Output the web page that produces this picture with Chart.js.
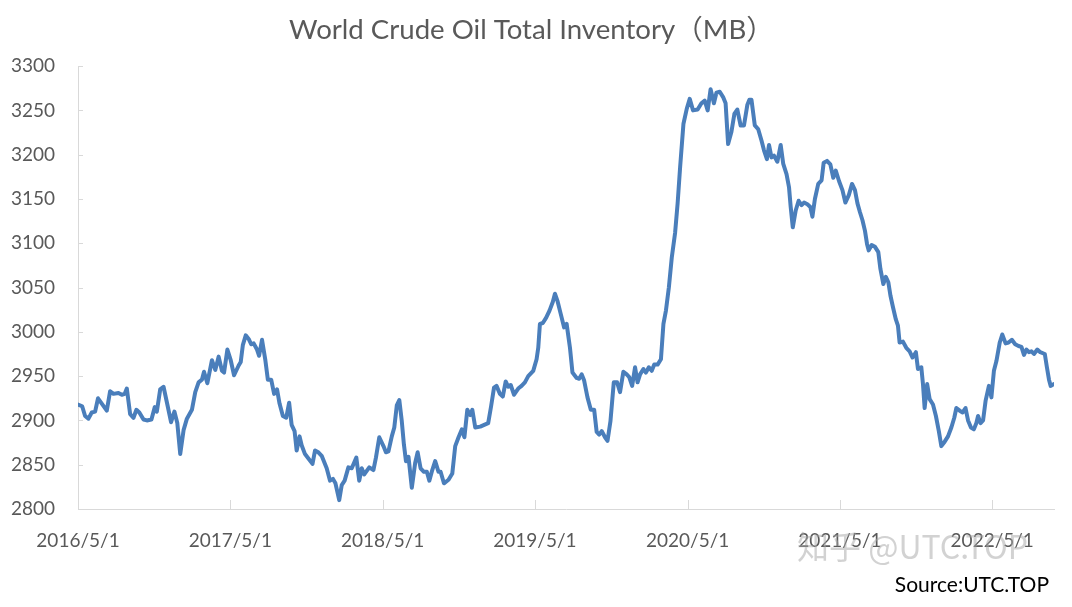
<!DOCTYPE html>
<html><head><meta charset="utf-8">
<script src="https://cdn.jsdelivr.net/npm/chart.js@4/dist/chart.umd.min.js"></script>
<style>
html,body{margin:0;padding:0;background:#fff;width:1072px;height:607px;overflow:hidden}
#wrap{position:relative;width:1072px;height:607px}
canvas{position:absolute;left:0;top:0}
#wm{position:absolute;left:797px;top:522px;font:32px "Noto Sans CJK SC";color:rgba(165,165,165,0.5);white-space:nowrap}
#src{position:absolute;right:23px;top:571px;font:21px Lato;color:#000;white-space:nowrap}
</style></head><body>
<div id="wrap"><canvas id="c" width="1072" height="607"></canvas>
<div id="wm">知乎 @UTC.TOP</div><div id="src">Source:UTC.TOP</div></div>
<script>
const startDate = '2016/5/1';
const dayOffsets = [0,10,17,25,33,41,48,57,69,77,85,97,105,112,117,125,133,140,147,157,165,176,184,189,197,205,215,223,231,238,245,253,261,273,281,289,297,302,310,321,329,337,345,350,358,366,374,385,390,395,402,409,415,421,429,434,441,449,455,463,470,477,483,491,499,506,512,519,524,531,536,544,554,562,568,576,584,596,604,611,617,626,632,639,648,656,667,674,680,686,698,708,714,722,732,738,744,752,758,764,770,776,781,786,792,800,808,814,821,829,836,842,849,856,864,869,877,888,897,904,912,920,926,933,940,945,952,964,983,990,997,1003,1011,1018,1025,1031,1037,1045,1055,1063,1071,1079,1091,1099,1103,1107,1114,1122,1130,1138,1143,1149,1157,1165,1171,1179,1185,1195,1201,1207,1213,1221,1229,1237,1243,1249,1255,1263,1269,1276,1284,1292,1299,1307,1315,1321,1328,1335,1341,1347,1355,1361,1368,1375,1381,1389,1397,1403,1409,1416,1423,1431,1437,1443,1451,1459,1466,1474,1485,1494,1502,1509,1516,1524,1530,1538,1546,1552,1558,1566,1573,1580,1588,1596,1604,1609,1614,1622,1630,1638,1644,1651,1656,1662,1668,1676,1684,1690,1698,1704,1708,1713,1720,1727,1734,1740,1748,1755,1760,1766,1774,1782,1787,1795,1803,1810,1816,1824,1832,1839,1847,1855,1862,1868,1874,1880,1886,1891,1895,1902,1910,1918,1923,1930,1936,1942,1947,1953,1960,1965,1969,1977,1985,1993,2000,2008,2013,2021,2025,2029,2035,2041,2049,2056,2063,2069,2077,2085,2093,2100,2105,2113,2120,2127,2133,2140,2147,2153,2157,2163,2169,2175,2183,2189,2195,2201,2209,2215,2223,2230,2238,2246,2254,2261,2267,2273,2279,2285,2291,2299,2306,2317,2322,2327,2331,2339];
const inventory = [2918,2916,2905,2902,2909,2910,2925,2919,2911,2933,2930,2931,2929,2930,2936,2907,2903,2912,2909,2901,2900,2901,2915,2910,2935,2938,2916,2898,2910,2897,2862,2889,2902,2912,2932,2943,2946,2955,2942,2968,2957,2972,2956,2954,2980,2968,2951,2962,2966,2985,2996,2992,2986,2987,2980,2973,2991,2968,2946,2946,2930,2935,2919,2905,2903,2920,2895,2888,2866,2882,2872,2862,2856,2851,2866,2864,2860,2846,2832,2834,2829,2810,2827,2832,2847,2846,2858,2832,2846,2839,2847,2844,2858,2881,2871,2864,2865,2882,2892,2917,2923,2899,2873,2854,2859,2824,2852,2864,2846,2842,2842,2832,2844,2854,2842,2842,2829,2833,2840,2871,2881,2890,2881,2912,2906,2912,2892,2893,2897,2916,2937,2939,2930,2927,2944,2938,2940,2929,2936,2939,2943,2950,2956,2969,2982,3009,3010,3016,3024,3034,3043,3035,3020,3005,3009,2982,2954,2948,2947,2952,2945,2926,2912,2912,2887,2884,2888,2881,2877,2899,2943,2943,2932,2955,2952,2949,2939,2960,2943,2952,2958,2954,2960,2956,2963,2963,2969,3009,3024,3050,3084,3112,3145,3186,3235,3252,3263,3250,3251,3258,3261,3250,3274,3258,3270,3271,3265,3258,3212,3226,3246,3251,3233,3233,3256,3262,3262,3233,3229,3216,3205,3195,3211,3197,3199,3192,3211,3190,3178,3163,3141,3118,3137,3148,3143,3146,3144,3141,3130,3150,3167,3171,3191,3193,3189,3174,3182,3170,3160,3146,3154,3167,3160,3145,3135,3126,3114,3099,3092,3098,3096,3090,3071,3054,3062,3056,3041,3028,3014,3007,2988,2989,2982,2978,2971,2977,2958,2960,2941,2914,2941,2924,2918,2905,2888,2871,2876,2882,2892,2903,2914,2911,2909,2914,2900,2892,2890,2897,2905,2897,2900,2922,2939,2926,2956,2967,2988,2997,2987,2988,2991,2986,2984,2983,2974,2980,2977,2978,2975,2980,2977,2975,2960,2946,2939,2941];
const xTickDays = [0,365,730,1095,1461,1826,2191];
const xTickLabels = ['2016/5/1','2017/5/1','2018/5/1','2019/5/1','2020/5/1','2021/5/1','2022/5/1'];
const yMin = 2800, yMax = 3300, yStep = 50;
const titleText = 'World Crude Oil Total Inventory（MB）';

const axisColor = '#d9d9d9';
const tickMarks = {
  id: 'tickMarks',
  beforeDatasetsDraw(chart) {
    const {ctx, scales: {x, y}, chartArea: a} = chart;
    ctx.save();
    ctx.strokeStyle = axisColor; ctx.lineWidth = 1;
    y.ticks.forEach(t => {
      const py = Math.round(y.getPixelForValue(t.value)) + 0.5;
      ctx.beginPath(); ctx.moveTo(a.left, py); ctx.lineTo(a.left + 5, py); ctx.stroke();
    });
    x.ticks.forEach(t => {
      const px = Math.round(x.getPixelForValue(t.value)) + 0.5;
      ctx.beginPath(); ctx.moveTo(px, a.bottom); ctx.lineTo(px, a.bottom - 9); ctx.stroke();
    });
    ctx.restore();
  }
};

new Chart(document.getElementById('c'), {
  type: 'line',
  data: {
    datasets: [{
      data: dayOffsets.map((d, i) => ({x: d, y: inventory[i]})),
      borderColor: '#4a7ebb', borderWidth: 4, pointRadius: 0, tension: 0,
      borderJoinStyle: 'round', borderCapStyle: 'round', fill: false
    }]
  },
  options: {
    responsive: false, animation: false, devicePixelRatio: 1,
    layout: {padding: {left: 9, right: 18, top: 0, bottom: 0}},
    plugins: {
      legend: {display: false}, tooltip: {enabled: false},
      title: {display: true, text: titleText, color: '#595959',
        font: {family: 'Lato, "Noto Sans CJK SC"', size: 27.6, weight: 'normal'},
        padding: {top: 14, bottom: 19}}
    },
    scales: {
      x: {
        type: 'linear', min: 0, max: 2339,
        afterBuildTicks: s => { s.ticks = xTickDays.map(v => ({value: v})); },
        afterFit: s => { s.height = 98; },
        grid: {display: false, drawTicks: false},
        border: {display: true, color: axisColor, width: 1},
        ticks: {autoSkip: false, maxRotation: 0, padding: 20, color: '#595959',
          font: {family: 'Lato', size: 19},
          callback: v => xTickLabels[xTickDays.indexOf(v)]}
      },
      y: {
        min: yMin, max: yMax,
        afterFit: s => { s.width = 69; },
        grid: {display: false, drawTicks: false},
        border: {display: true, color: axisColor, width: 1},
        ticks: {stepSize: yStep, padding: 23, color: '#595959', font: {family: 'Lato', size: 19},
          callback: v => String(v)}
      }
    }
  },
  plugins: [tickMarks]
});
</script>
</body></html>
